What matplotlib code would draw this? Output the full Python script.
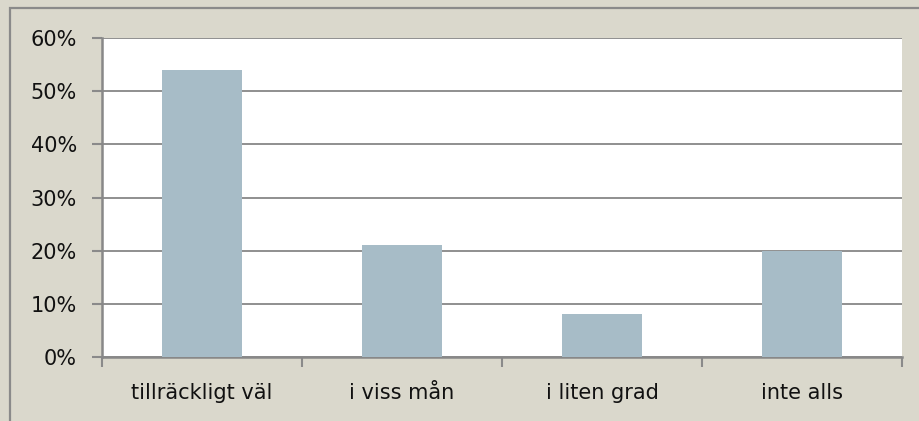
import matplotlib
matplotlib.use("Agg")
import matplotlib.pyplot as plt
from matplotlib.patches import Rectangle
from matplotlib.ticker import FixedLocator

categories = ["tillräckligt väl", "i viss mån", "i liten grad", "inte alls"]
values = [54, 21, 8, 20]
yticks = [0, 10, 20, 30, 40, 50, 60]
ytick_labels = ["0%", "10%", "20%", "30%", "40%", "50%", "60%"]

plt.rcParams['font.family'] = ['DejaVu Sans']

W, H = 920, 421
fig = plt.figure(figsize=(W / 100, H / 100), dpi=100)
bg = "#DAD8CC"
fig.patch.set_facecolor(bg)

# outer frame line
fig.patches.append(Rectangle((10.5 / W, -0.1), 1.2, 1 - 8.5 / H + 0.1,
                             transform=fig.transFigure, fill=False,
                             edgecolor="#8A8A8A", linewidth=1.6))

ax = fig.add_axes([102 / W, (H - 357) / H, 800 / W, (357 - 38) / H])
ax.set_facecolor("white")

x = range(len(categories))
ax.bar(x, values, width=0.4, color="#A7BCC7", zorder=3)

ax.set_xlim(-0.5, len(categories) - 0.5)
ax.set_ylim(0, 60)
ax.set_yticks(yticks)
ax.set_yticklabels(ytick_labels)
ax.yaxis.grid(True, color="#8F8F8F", linewidth=1.4, zorder=1)
ax.set_axisbelow(True)

ax.xaxis.set_major_locator(FixedLocator([i - 0.5 for i in range(len(categories) + 1)]))
ax.xaxis.set_major_formatter(plt.NullFormatter())
ax.xaxis.set_minor_locator(FixedLocator(list(x)))
ax.set_xticklabels(categories, minor=True)
ax.tick_params(axis="x", which="minor", length=0, pad=19, labelsize=15, labelcolor="#111111")
ax.tick_params(axis="x", which="major", length=7, width=1.5, color="#8A8A8A", direction="out")
ax.tick_params(axis="y", length=7, width=1.5, color="#8A8A8A", pad=11, labelsize=15, labelcolor="#111111")

for s in ["top", "right"]:
    ax.spines[s].set_visible(False)
for s in ["left", "bottom"]:
    ax.spines[s].set_color("#888888")
    ax.spines[s].set_linewidth(1.8)

fig.savefig("out.png", dpi=100, facecolor=bg)
